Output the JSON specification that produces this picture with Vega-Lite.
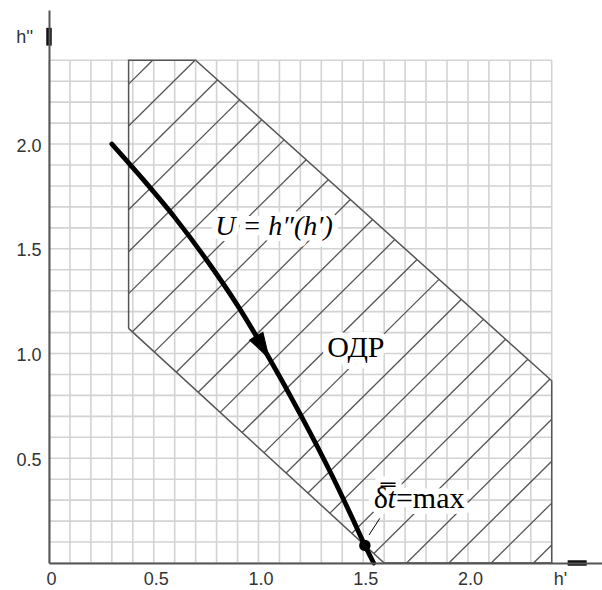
{
  "$schema": "https://vega.github.io/schema/vega-lite/v6.json",
  "width": 553,
  "height": 553,
  "autosize": {"type": "none"},
  "padding": {"left": 49, "top": 10, "right": 0, "bottom": 27},
  "background": "white",
  "config": {"view": {"stroke": null}},
  "datasets": {
    "grid": [
      {"x": 0, "y": 0}, {"x": 0.1, "y": 0.1}, {"x": 0.2, "y": 0.2}, {"x": 0.3, "y": 0.3}, {"x": 0.4, "y": 0.4},
      {"x": 0.5, "y": 0.5}, {"x": 0.6, "y": 0.6}, {"x": 0.7, "y": 0.7}, {"x": 0.8, "y": 0.8}, {"x": 0.9, "y": 0.9},
      {"x": 1.0, "y": 1.0}, {"x": 1.1, "y": 1.1}, {"x": 1.2, "y": 1.2}, {"x": 1.3, "y": 1.3}, {"x": 1.4, "y": 1.4},
      {"x": 1.5, "y": 1.5}, {"x": 1.6, "y": 1.6}, {"x": 1.7, "y": 1.7}, {"x": 1.8, "y": 1.8}, {"x": 1.9, "y": 1.9},
      {"x": 2.0, "y": 2.0}, {"x": 2.1, "y": 2.1}, {"x": 2.2, "y": 2.2}, {"x": 2.3, "y": 2.3}, {"x": 2.4, "y": 2.4}
    ],
    "hatch": [
      {"x": 0.38, "y": 2.286, "x2": 0.495, "y2": 2.4},
      {"x": 0.38, "y": 2.086, "x2": 0.697, "y2": 2.4},
      {"x": 0.38, "y": 1.886, "x2": 0.804, "y2": 2.306},
      {"x": 0.38, "y": 1.686, "x2": 0.91, "y2": 2.211},
      {"x": 0.38, "y": 1.486, "x2": 1.016, "y2": 2.116},
      {"x": 0.38, "y": 1.286, "x2": 1.122, "y2": 2.02},
      {"x": 0.398, "y": 1.104, "x2": 1.228, "y2": 1.925},
      {"x": 0.503, "y": 1.008, "x2": 1.333, "y2": 1.83},
      {"x": 0.607, "y": 0.911, "x2": 1.439, "y2": 1.735},
      {"x": 0.712, "y": 0.815, "x2": 1.545, "y2": 1.64},
      {"x": 0.817, "y": 0.719, "x2": 1.651, "y2": 1.544},
      {"x": 0.922, "y": 0.623, "x2": 1.757, "y2": 1.449},
      {"x": 1.027, "y": 0.527, "x2": 1.862, "y2": 1.354},
      {"x": 1.132, "y": 0.43, "x2": 1.968, "y2": 1.258},
      {"x": 1.236, "y": 0.334, "x2": 2.074, "y2": 1.163},
      {"x": 1.341, "y": 0.238, "x2": 2.18, "y2": 1.068},
      {"x": 1.446, "y": 0.142, "x2": 2.286, "y2": 0.973},
      {"x": 1.551, "y": 0.045, "x2": 2.392, "y2": 0.878},
      {"x": 1.707, "y": 0, "x2": 2.4, "y2": 0.686},
      {"x": 1.909, "y": 0, "x2": 2.4, "y2": 0.486},
      {"x": 2.111, "y": 0, "x2": 2.4, "y2": 0.286},
      {"x": 2.313, "y": 0, "x2": 2.4, "y2": 0.086}
    ],
    "region": [
      {"i": 0, "x": 0.38, "y": 1.12},
      {"i": 1, "x": 0.38, "y": 2.4},
      {"i": 2, "x": 0.7, "y": 2.4},
      {"i": 3, "x": 2.4, "y": 0.87},
      {"i": 4, "x": 2.4, "y": 0},
      {"i": 5, "x": 1.6, "y": 0},
      {"i": 6, "x": 0.38, "y": 1.12}
    ],
    "curve": [
      {"x": 0.3, "y": 2.0},
      {"x": 0.45, "y": 1.83},
      {"x": 0.6, "y": 1.65},
      {"x": 0.75, "y": 1.45},
      {"x": 0.9, "y": 1.23},
      {"x": 1.05, "y": 0.98},
      {"x": 1.2, "y": 0.71},
      {"x": 1.35, "y": 0.42},
      {"x": 1.45, "y": 0.21},
      {"x": 1.51, "y": 0.08},
      {"x": 1.55, "y": 0.0}
    ],
    "arrow": [{"x": 1.02, "y": 1.03}],
    "optimum": [{"x": 1.508, "y": 0.084}],
    "leader": [{"x": 1.528, "y": 0.134, "x2": 1.579, "y2": 0.213}],
    "axisEnds": [
      {"x": 0, "y": 2.47, "x2": 0, "y2": 2.555},
      {"x": 2.476, "y": 0, "x2": 2.567, "y2": 0}
    ],
    "yName": [{"x": -0.076, "y": 2.505, "text": "h''"}],
    "notes": [
      {"x": 1.074, "y": 1.604, "text": "U = h″(h′)", "kind": "curve"},
      {"x": 1.465, "y": 1.026, "text": "ОДР", "kind": "region"},
      {"x": 1.656, "y": 0.2625, "text": "δ̿", "kind": "delta"},
      {"x": 1.656, "y": 0.2625, "text": "t", "kind": "t"},
      {"x": 1.656, "y": 0.2625, "text": "=max", "kind": "max"}
    ]
  },
  "encoding": {
    "x": {
      "field": "x",
      "type": "quantitative",
      "scale": {"domain": [0, 2.64], "nice": false, "zero": false},
      "axis": {
        "title": null,
        "values": [0, 0.5, 1, 1.5, 2, 2.43],
        "labelExpr": "datum.value > 2.3 ? \"h'\" : (datum.value == 0 ? '0' : format(datum.value, '.1f'))",
        "ticks": false,
        "tickSize": 0,
        "grid": false,
        "domainColor": "#555555",
        "domainWidth": 2,
        "labelFont": "Liberation Sans",
        "labelFontSize": 18,
        "labelColor": "#333333",
        "labelPadding": 7,
        "labelOffset": 2,
        "labelFlush": false,
        "labelOverlap": false,
        "labelBound": false,
        "zindex": 1
      }
    },
    "y": {
      "field": "y",
      "type": "quantitative",
      "scale": {"domain": [0, 2.64], "nice": false, "zero": false},
      "axis": {
        "title": null,
        "values": [0.5, 1, 1.5, 2],
        "format": ".1f",
        "ticks": false,
        "tickSize": 0,
        "grid": false,
        "domainColor": "#555555",
        "domainWidth": 2,
        "labelFont": "Liberation Sans",
        "labelFontSize": 18,
        "labelColor": "#333333",
        "labelPadding": 8,
        "labelOffset": 2,
        "labelOverlap": false,
        "labelBound": false,
        "zindex": 1
      }
    }
  },
  "layer": [
    {
      "data": {"name": "grid"},
      "mark": {"type": "rule", "stroke": "#d3d3d3", "strokeWidth": 1.6},
      "encoding": {
        "y": {"datum": 0, "type": "quantitative"},
        "y2": {"datum": 2.4}
      }
    },
    {
      "data": {"name": "grid"},
      "mark": {"type": "rule", "stroke": "#d3d3d3", "strokeWidth": 1.6},
      "encoding": {
        "x": {"datum": 0, "type": "quantitative"},
        "x2": {"datum": 2.4}
      }
    },
    {
      "data": {"name": "hatch"},
      "mark": {"type": "rule", "stroke": "#555555", "strokeWidth": 1.3},
      "encoding": {
        "x2": {"field": "x2"},
        "y2": {"field": "y2"}
      }
    },
    {
      "data": {"name": "region"},
      "mark": {"type": "line", "stroke": "#555555", "strokeWidth": 1.5},
      "encoding": {"order": {"field": "i"}}
    },
    {
      "data": {"name": "curve"},
      "mark": {"type": "line", "stroke": "black", "strokeWidth": 4.8, "interpolate": "monotone", "strokeCap": "round"},
      "encoding": {}
    },
    {
      "data": {"name": "arrow"},
      "mark": {"type": "point", "shape": "M -0.6 -1 L 0 1 L 0.6 -1 Z", "filled": true, "fill": "black", "stroke": "black", "strokeWidth": 1, "size": 650, "opacity": 1, "angle": 330},
      "encoding": {}
    },
    {
      "data": {"name": "leader"},
      "mark": {"type": "rule", "stroke": "black", "strokeWidth": 1},
      "encoding": {
        "x2": {"field": "x2"},
        "y2": {"field": "y2"}
      }
    },
    {
      "data": {"name": "optimum"},
      "mark": {"type": "circle", "fill": "black", "size": 130, "opacity": 1},
      "encoding": {}
    },
    {
      "data": {"name": "axisEnds"},
      "mark": {"type": "rule", "stroke": "#111111", "strokeWidth": 5.5},
      "encoding": {
        "x2": {"field": "x2"},
        "y2": {"field": "y2"}
      }
    },
    {
      "data": {"name": "yName"},
      "mark": {"type": "text", "font": "Liberation Sans", "fontSize": 18, "fill": "#333333", "align": "right", "baseline": "middle"},
      "encoding": {"text": {"field": "text"}}
    },
    {
      "data": {"name": "notes"},
      "encoding": {"text": {"field": "text"}},
      "layer": [
        {
          "transform": [{"filter": "datum.kind == 'curve'"}],
          "mark": {"type": "text", "font": "Liberation Serif", "fontStyle": "italic", "fontSize": 28, "baseline": "middle", "align": "center", "fill": "white", "stroke": "white", "strokeWidth": 12, "strokeJoin": "round"}
        },
        {
          "transform": [{"filter": "datum.kind == 'region'"}],
          "mark": {"type": "text", "font": "Liberation Serif", "fontSize": 30, "baseline": "middle", "align": "center", "fill": "white", "stroke": "white", "strokeWidth": 12, "strokeJoin": "round"}
        },
        {
          "transform": [{"filter": "datum.kind == 'delta'"}],
          "mark": {"type": "text", "font": "Liberation Serif", "fontSize": 30, "baseline": "alphabetic", "align": "right", "dx": -8, "fill": "white", "stroke": "white", "strokeWidth": 12, "strokeJoin": "round"}
        },
        {
          "transform": [{"filter": "datum.kind == 't'"}],
          "mark": {"type": "text", "font": "Liberation Serif", "fontStyle": "italic", "fontSize": 30, "baseline": "alphabetic", "align": "right", "fill": "white", "stroke": "white", "strokeWidth": 12, "strokeJoin": "round"}
        },
        {
          "transform": [{"filter": "datum.kind == 'max'"}],
          "mark": {"type": "text", "font": "Liberation Serif", "fontSize": 30, "baseline": "alphabetic", "align": "left", "fill": "white", "stroke": "white", "strokeWidth": 12, "strokeJoin": "round"}
        },
        {
          "transform": [{"filter": "datum.kind == 'curve'"}],
          "mark": {"type": "text", "font": "Liberation Serif", "fontStyle": "italic", "fontSize": 28, "baseline": "middle", "align": "center", "fill": "black"}
        },
        {
          "transform": [{"filter": "datum.kind == 'region'"}],
          "mark": {"type": "text", "font": "Liberation Serif", "fontSize": 30, "baseline": "middle", "align": "center", "fill": "black"}
        },
        {
          "transform": [{"filter": "datum.kind == 'delta'"}],
          "mark": {"type": "text", "font": "Liberation Serif", "fontSize": 30, "baseline": "alphabetic", "align": "right", "dx": -8, "fill": "black"}
        },
        {
          "transform": [{"filter": "datum.kind == 't'"}],
          "mark": {"type": "text", "font": "Liberation Serif", "fontStyle": "italic", "fontSize": 30, "baseline": "alphabetic", "align": "right", "fill": "black"}
        },
        {
          "transform": [{"filter": "datum.kind == 'max'"}],
          "mark": {"type": "text", "font": "Liberation Serif", "fontSize": 30, "baseline": "alphabetic", "align": "left", "fill": "black"}
        }
      ]
    }
  ]
}
